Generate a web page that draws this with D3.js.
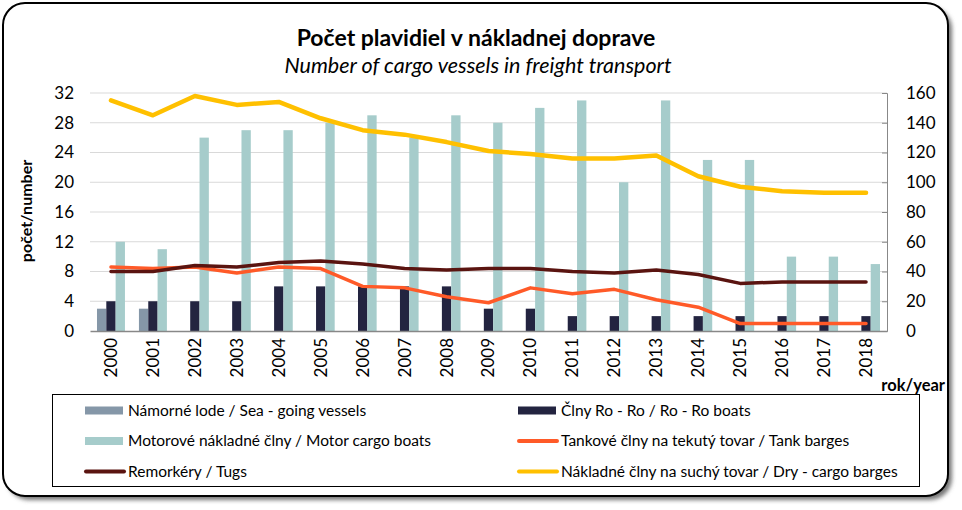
<!DOCTYPE html>
<html lang="sk">
<head>
<meta charset="utf-8">
<title>Počet plavidiel v nákladnej doprave</title>
<script src="https://d3js.org/d3.v7.js"></script>
<style>
  body { margin: 0; background: #fff; }
  svg { display: block; font-family: Lato, "Open Sans", sans-serif; }
</style>
</head>
<body>
<svg></svg>
<script>
const years = ['2000','2001','2002','2003','2004','2005','2006','2007','2008','2009',
               '2010','2011','2012','2013','2014','2015','2016','2017','2018'];

// left axis (bars)
const seaGoing  = [3, 3, 0, 0, 0, 0, 0, 0, 0, 0, 0, 0, 0, 0, 0, 0, 0, 0, 0];
const roRo      = [4, 4, 4, 4, 6, 6, 6, 6, 6, 3, 3, 2, 2, 2, 2, 2, 2, 2, 2];
const motorBoat = [12, 11, 26, 27, 27, 28, 29, 26, 29, 28, 30, 31, 20, 31, 23, 23, 10, 10, 9];

// right axis (lines)
const tankBarges = [43, 42, 43, 39, 43, 42, 30, 29, 23, 19, 29, 25, 28, 21, 16, 5, 5, 5, 5];
const tugs       = [40, 40, 44, 43, 46, 47, 45, 42, 41, 42, 42, 40, 39, 41, 38, 32, 33, 33, 33];
const dryBarges  = [155, 145, 158, 152, 154, 143, 135, 132, 127, 121, 119, 116, 116, 118, 104, 97, 94, 93, 93];

const leftTicks  = [0, 4, 8, 12, 16, 20, 24, 28, 32];
const rightTicks = [0, 20, 40, 60, 80, 100, 120, 140, 160];

const w = 962, h = 510;
const margin = {top: 93, right: 75, bottom: 179, left: 90};
const x0 = margin.left, x1 = w - margin.right;
const y0 = h - margin.bottom, y1 = margin.top;

const svg = d3.select('svg').attr('width', w).attr('height', h);

// frame with shadow
const defs = svg.append('defs');
const f = defs.append('filter').attr('id', 'shadow').attr('x', '-5%').attr('y', '-5%').attr('width', '110%').attr('height', '115%');
f.append('feGaussianBlur').attr('stdDeviation', 2);
svg.append('rect')
  .attr('x', 7).attr('y', 7).attr('width', 945).attr('height', 493)
  .attr('rx', 22).attr('fill', '#777').attr('filter', 'url(#shadow)');
svg.append('rect')
  .attr('x', 3).attr('y', 3).attr('width', 945).attr('height', 493)
  .attr('rx', 22).attr('fill', '#fff').attr('stroke', '#000').attr('stroke-width', 2);

// titles
svg.append('text').attr('x', 476).attr('y', 46).attr('text-anchor', 'middle')
  .attr('font-size', 23).attr('font-weight', 'bold').attr('fill', '#000')
  .text('Počet plavidiel v nákladnej doprave');
svg.append('text').attr('x', 478).attr('y', 73).attr('text-anchor', 'middle')
  .attr('font-size', 21.5).attr('font-style', 'italic').attr('fill', '#000')
  .text('Number of cargo vessels in freight transport');

// scales
const x = d3.scaleBand().domain(years).range([x0, x1]).paddingInner(1/3).paddingOuter(1/6);
const xs = d3.scaleBand().domain(['sea', 'roro', 'motor']).range([0, x.bandwidth()]);
const yL = d3.scaleLinear().domain([0, 32]).range([y0, y1]);
const yR = d3.scaleLinear().domain([0, 160]).range([y0, y1]);

// gridlines
svg.append('g').selectAll('line').data(leftTicks.slice(1)).join('line')
  .attr('x1', x0).attr('x2', x1)
  .attr('y1', d => yL(d)).attr('y2', d => yL(d))
  .attr('stroke', '#d9d9d9').attr('stroke-width', 1);

// left axis labels
const leftAxis = svg.append('g').attr('transform', `translate(${x0 - 16},0)`)
  .call(d3.axisLeft(yL).tickValues(leftTicks).tickSize(0).tickPadding(0));
leftAxis.select('.domain').remove();
leftAxis.selectAll('text').attr('font-size', 17).attr('fill', '#000').attr('font-family', 'Lato, sans-serif');

// right axis
const rightAxis = svg.append('g').attr('transform', `translate(${x1},0)`)
  .call(d3.axisRight(yR).tickValues(rightTicks).tickSize(-5).tickPadding(19));
rightAxis.select('.domain').attr('stroke', '#888');
rightAxis.selectAll('.tick line').attr('stroke', '#888');
rightAxis.selectAll('text').attr('font-size', 17).attr('fill', '#000').attr('font-family', 'Lato, sans-serif');

// bars
const barSeries = [
  {key: 'sea', values: seaGoing, color: '#8597a8'},
  {key: 'roro', values: roRo, color: '#232440'},
  {key: 'motor', values: motorBoat, color: '#a6cccb'}
];
barSeries.forEach(s => {
  svg.append('g').selectAll('rect').data(years).join('rect')
    .attr('x', (d, i) => x(d) + xs(s.key))
    .attr('width', xs.bandwidth())
    .attr('y', (d, i) => yL(s.values[i]))
    .attr('height', (d, i) => y0 - yL(s.values[i]))
    .attr('fill', s.color);
});

// bottom axis
const bottomAxis = svg.append('g').attr('transform', `translate(0,${y0})`)
  .call(d3.axisBottom(x).tickSize(0).tickPadding(0));
bottomAxis.select('.domain').attr('stroke', '#888').attr('stroke-width', 1.5);
bottomAxis.selectAll('text')
  .attr('font-size', 17).attr('fill', '#000').attr('font-family', 'Lato, sans-serif')
  .attr('transform', 'rotate(-90)')
  .attr('text-anchor', 'end')
  .attr('x', -7).attr('y', 0).attr('dy', '0.35em');

// lines
const lineSeries = [
  {values: tankBarges, color: '#ff5a28', width: 3.5},
  {values: tugs, color: '#5a1410', width: 3.5},
  {values: dryBarges, color: '#ffc000', width: 4.5}
];
const line = d3.line()
  .x((d, i) => x(years[i]) + x.bandwidth() / 2)
  .y(d => yR(d));
lineSeries.forEach(s => {
  svg.append('path').datum(s.values)
    .attr('d', line)
    .attr('fill', 'none')
    .attr('stroke', s.color)
    .attr('stroke-width', s.width)
    .attr('stroke-linejoin', 'round')
    .attr('stroke-linecap', 'round');
});

// axis titles
svg.append('text')
  .attr('transform', 'translate(32,211) rotate(-90)')
  .attr('text-anchor', 'middle')
  .attr('font-size', 16).attr('font-weight', 'bold').attr('fill', '#000')
  .text('počet/number');
svg.append('text').attr('x', 945).attr('y', 391).attr('text-anchor', 'end')
  .attr('font-size', 16.5).attr('font-weight', 'bold').attr('fill', '#000')
  .text('rok/year');

// legend
svg.append('rect').attr('x', 52.5).attr('y', 394.5).attr('width', 867).attr('height', 92)
  .attr('fill', '#fff').attr('stroke', '#000').attr('stroke-width', 1);

const legendItems = [
  {label: 'Námorné lode / Sea - going vessels', color: '#8597a8', type: 'bar', col: 0, row: 0},
  {label: 'Člny Ro - Ro / Ro - Ro boats', color: '#232440', type: 'bar', col: 1, row: 0},
  {label: 'Motorové nákladné člny / Motor cargo boats', color: '#a6cccb', type: 'bar', col: 0, row: 1},
  {label: 'Tankové člny na tekutý tovar / Tank barges', color: '#ff5a28', type: 'line', col: 1, row: 1},
  {label: 'Remorkéry / Tugs', color: '#5a1410', type: 'line', col: 0, row: 2},
  {label: 'Nákladné člny na suchý tovar / Dry - cargo barges', color: '#ffc000', type: 'line', col: 1, row: 2}
];
const colX = [85, 518];
const rowY = [410.5, 441, 471.5];
const lg = svg.append('g').selectAll('g').data(legendItems).join('g')
  .attr('transform', d => `translate(${colX[d.col]},${rowY[d.row]})`);
lg.filter(d => d.type === 'bar').append('rect')
  .attr('x', 0).attr('y', -4).attr('width', 38).attr('height', 8)
  .attr('fill', d => d.color);
lg.filter(d => d.type === 'line').append('line')
  .attr('x1', 1).attr('x2', 39).attr('y1', 0).attr('y2', 0)
  .attr('stroke', d => d.color).attr('stroke-width', 4).attr('stroke-linecap', 'round');
lg.append('text').attr('x', 43).attr('y', 0).attr('dy', '0.35em')
  .attr('font-size', 15.5).attr('fill', '#000')
  .text(d => d.label);
</script>
</body>
</html>
